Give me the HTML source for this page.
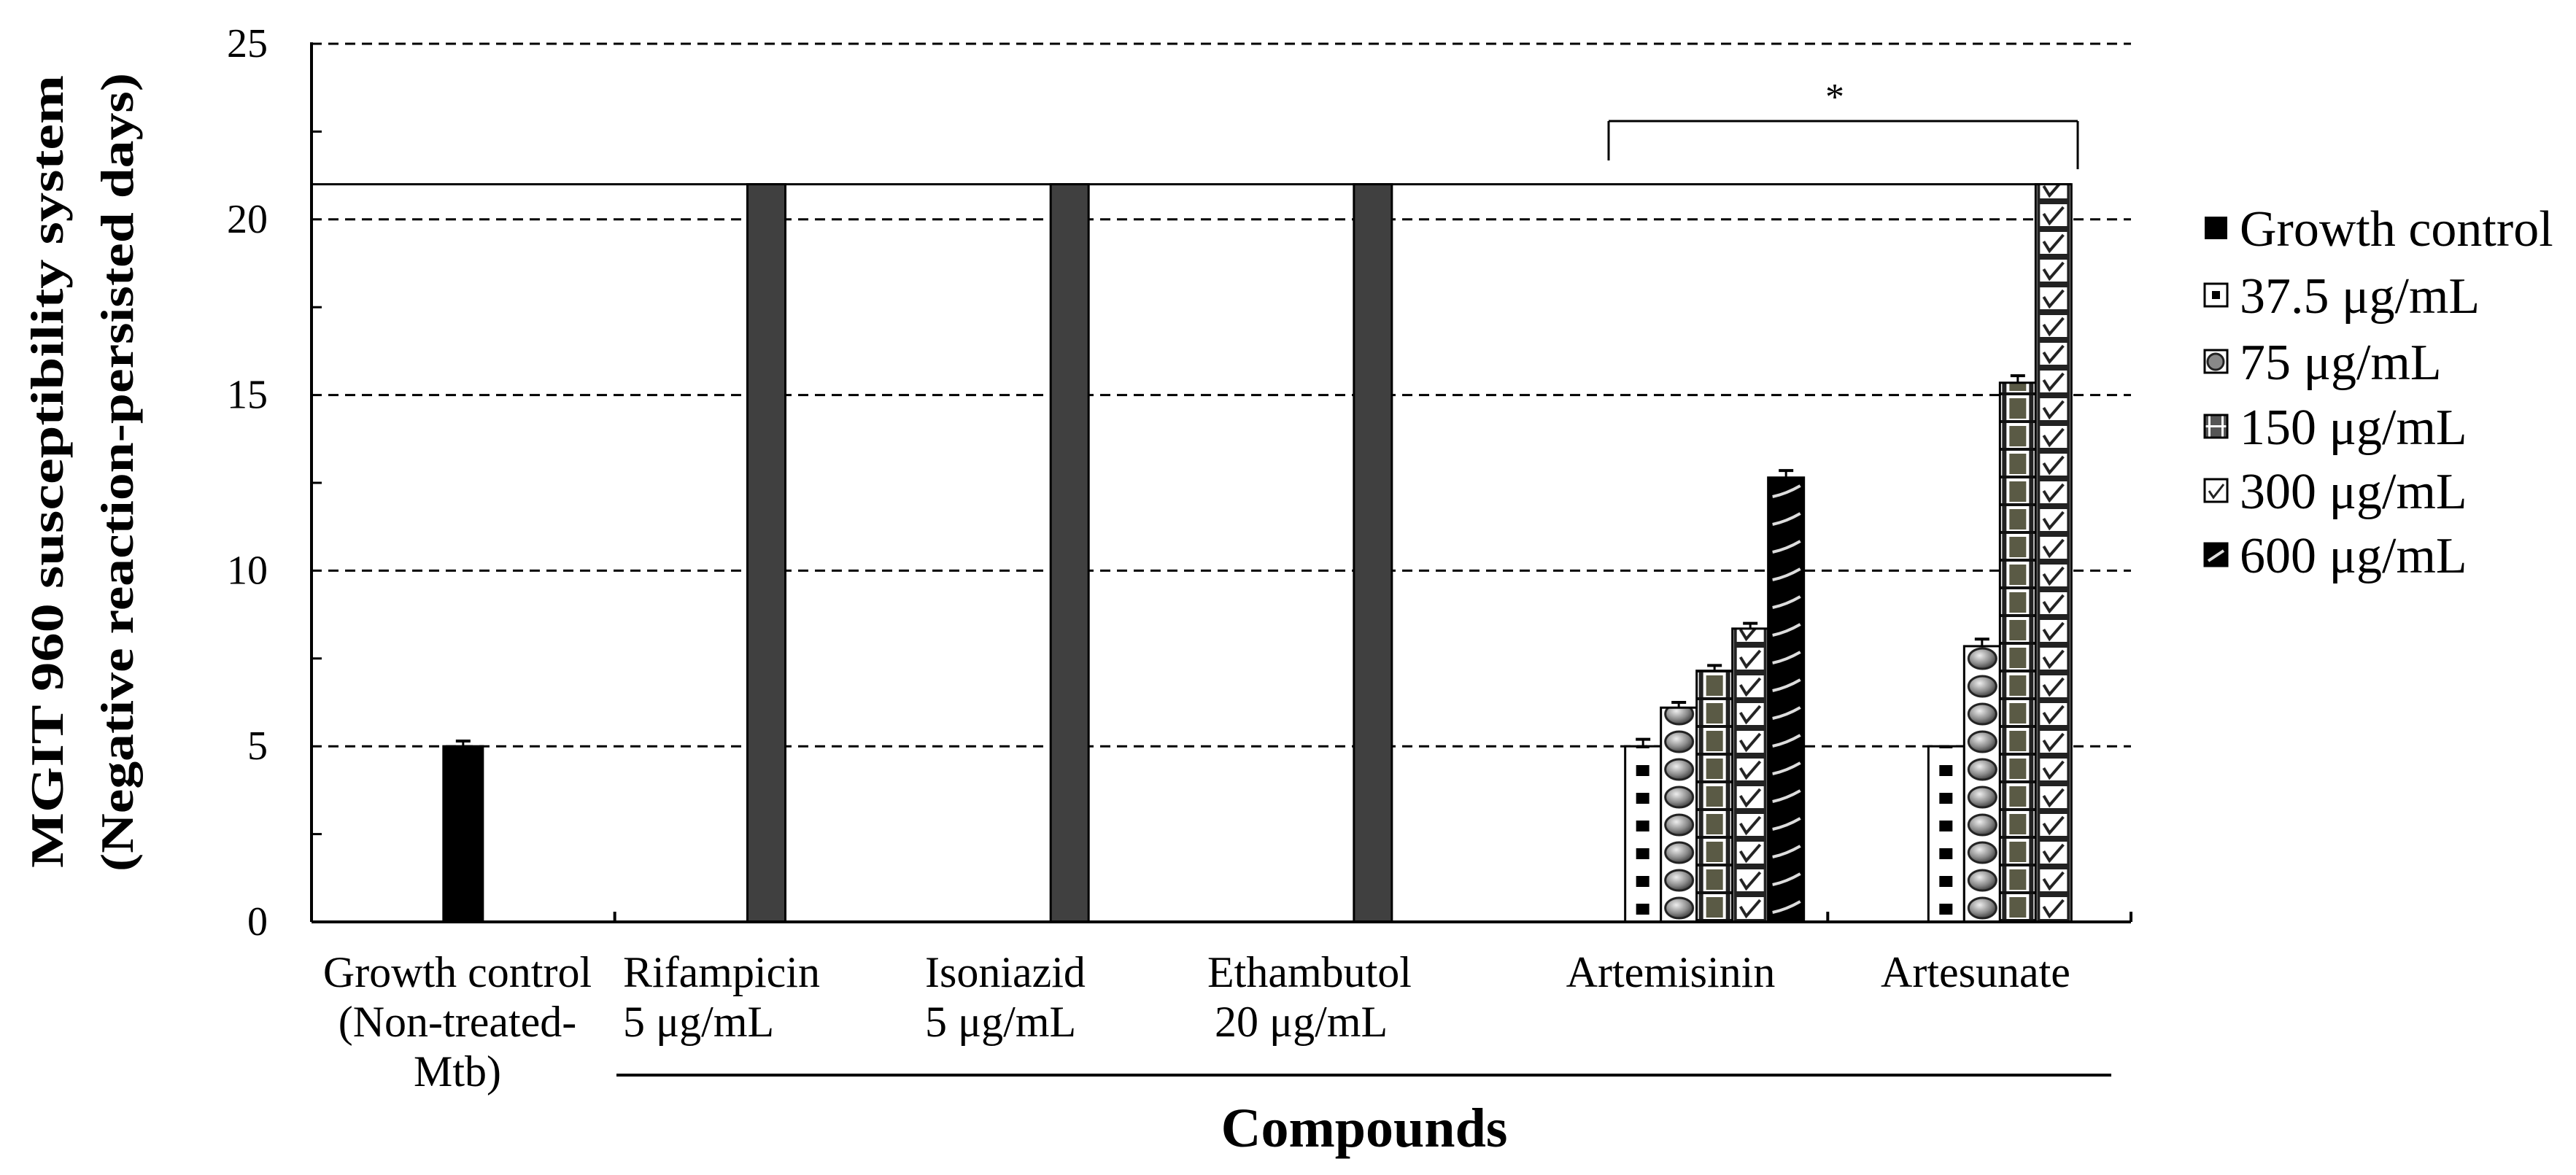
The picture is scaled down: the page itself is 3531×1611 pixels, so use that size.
<!DOCTYPE html>
<html><head><meta charset="utf-8"><style>
html,body{margin:0;padding:0;background:#fff}
svg{display:block}
text{font-family:"Liberation Serif",serif}
</style></head><body>
<svg id="chart" width="3531" height="1611" viewBox="0 0 3531 1611" xmlns="http://www.w3.org/2000/svg" style="position:absolute;left:0;top:0">
<defs id="defs">
<radialGradient id="sph" cx="0.4" cy="0.35" r="0.7"><stop offset="0" stop-color="#eee"/><stop offset="0.6" stop-color="#888"/><stop offset="1" stop-color="#333"/></radialGradient>
</defs>
<g id="grid"></g>
<g id="marks"></g>
<g id="axes"></g>
</svg>
<script>
const categories = ["Growth control", "Rifampicin", "Isoniazid", "Ethambutol", "Artemisinin", "Artesunate"];
const seriesNames = ["Growth control", "37.5 μg/mL", "75 μg/mL", "150 μg/mL", "300 μg/mL", "600 μg/mL"];
const controlValues = [5.0, 21, 21, 21];
const controlErrors = [0.15, 0, 0, 0];
const artemisininValues = [5.0, 6.1, 7.15, 8.35, 12.65];
const artemisininErrors = [0.2, 0.15, 0.15, 0.15, 0.2];
const artesunateValues = [5.0, 7.85, 15.35, 21];
const artesunateErrors = [0, 0.2, 0.2, 0];
const yTicks = [0, 5, 10, 15, 20, 25];
const cutoff = 21;

const NS = "http://www.w3.org/2000/svg";
const X0 = 427, X1 = 2921, Y0 = 1264, Y25 = 60;
const catW = (X1 - X0) / 6;
function y(v){ return Y0 - (v / 25) * (Y0 - Y25); }
function catStart(i){ return X0 + i * catW; }
function mk(tag, attrs, parent){ const e=document.createElementNS(NS,tag); for(const k in attrs) e.setAttribute(k,attrs[k]); parent.appendChild(e); return e; }
const grid=document.getElementById('grid'), marks=document.getElementById('marks'), axes=document.getElementById('axes'), defs=document.getElementById('defs');

const tiles = [
 '<rect width="W" height="38" fill="#fff"/><rect x="15" y="13" width="18" height="15" fill="#000"/>',
 '<rect width="W" height="38" fill="#fff"/><ellipse cx="25" cy="19" rx="19" ry="14" fill="url(#sph)" stroke="#222" stroke-width="3"/>',
 '<rect width="W" height="38" fill="#fff"/><rect x="13" y="4" width="23" height="28" fill="#5a5a45"/><rect x="3" y="0" width="6" height="38" fill="#222"/><rect x="40" y="0" width="6" height="38" fill="#222"/><rect x="0" y="34" width="W" height="4" fill="#111"/>',
 '<rect width="W" height="38" fill="#fff"/><rect x="4" y="2" width="41" height="34" fill="none" stroke="#222" stroke-width="4"/><path d="M11 17 L19 30 L38 8" fill="none" stroke="#222" stroke-width="4"/>',
 '<rect width="W" height="38" fill="#000"/><path d="M6 25 Q25 21 44 10" fill="none" stroke="#ddd" stroke-width="4"/>'
];
let pid=0;
function patFor(k,x,w){
  const id='pt'+(pid++);
  const p=mk('pattern',{id:id,patternUnits:'userSpaceOnUse',x:x,y:Y0,width:w,height:38},defs);
  p.innerHTML=tiles[k].replace(/"W"/g,'"'+w+'"');
  return 'url(#'+id+')';
}

yTicks.forEach(t=>{
  if(t>0){ const l=mk('line',{x1:X0,x2:X1,y1:y(t),y2:y(t),stroke:'#000','stroke-width':3,'stroke-dasharray':'14 9'},grid);
    
     }
  const tx=mk('text',{x:X0-60,y:y(t)+18,'font-size':56,'text-anchor':'end'},axes); tx.textContent=t;
  
  
});
for(let v=2.5; v<25; v+=5){ mk('line',{x1:X0,x2:X0+14,y1:y(v),y2:y(v),stroke:'#000','stroke-width':3},axes); }
const cl=mk('line',{x1:X0,x2:2839,y1:y(cutoff),y2:y(cutoff),stroke:'#000','stroke-width':3},grid);



function bar(x,w,v,fill,err,name){
  const r=mk('rect',{x:x,y:y(v),width:w,height:Y0-y(v),fill:fill,stroke:'#000','stroke-width':3},marks);
  
  
  if(err>0){ const cx=x+w/2; mk('line',{x1:cx,x2:cx,y1:y(v),y2:y(v+err),stroke:'#000','stroke-width':3},marks);
    mk('line',{x1:cx-10,x2:cx+10,y1:y(v+err),y2:y(v+err),stroke:'#000','stroke-width':4},marks); }
}
controlValues.forEach((v,i)=>{
  const w = i===0?54:52; const cx=catStart(i)+catW/2;
  bar(cx-w/2,w,v,i===0?'#000':'#404040',controlErrors[i],'bar-'+categories[i].toLowerCase().replace(/ /g,'-'));
});
const slotW=49;
artemisininValues.forEach((v,k)=>{ const x=catStart(4)+138+k*slotW; bar(x,slotW,v,patFor(k,x,slotW),artemisininErrors[k],'bar-artemisinin-'+k); });
artesunateValues.forEach((v,k)=>{ const x=catStart(5)+138+k*slotW; bar(x,slotW,v,patFor(k,x,slotW),artesunateErrors[k],'bar-artesunate-'+k); });

mk('line',{x1:X0,x2:X0,y1:Y25-2,y2:Y0,stroke:'#000','stroke-width':4},axes);
mk('line',{x1:X0,x2:X1,y1:Y0,y2:Y0,stroke:'#000','stroke-width':4},axes);
[1,5,6].forEach(i=>{ const xx=i===6?X1:catStart(i); mk('line',{x1:xx,x2:xx,y1:Y0,y2:Y0-14,stroke:'#000','stroke-width':4},axes); });
</script>
<svg style="position:absolute;left:0;top:0" width="3531" height="1611" xmlns="http://www.w3.org/2000/svg">
<g stroke="#000" stroke-width="3" fill="none">
<line x1="2205" y1="166" x2="2848" y2="166"/><line x1="2205" y1="166" x2="2205" y2="220"/><line x1="2848" y1="166" x2="2848" y2="232"/>
</g>
<text x="2515" y="150" font-size="52" text-anchor="middle">*</text>
<g font-weight="bold" font-size="64">
<text transform="translate(86,1190) rotate(-90)" textLength="1087" lengthAdjust="spacingAndGlyphs">MGIT 960 susceptibility system</text>
<text transform="translate(182,1195) rotate(-90)" textLength="1095" lengthAdjust="spacingAndGlyphs">(Negative reaction-persisted days)</text>
<text x="1870" y="1572" font-size="76" text-anchor="middle">Compounds</text>
</g>
<g font-size="60" fill="#000">
<text x="627" y="1353" text-anchor="middle">Growth control</text>
<text x="627" y="1421" text-anchor="middle">(Non-treated-</text>
<text x="627" y="1489" text-anchor="middle">Mtb)</text>
<text x="854" y="1353">Rifampicin</text>
<text x="854" y="1421">5 μg/mL</text>
<text x="1268" y="1353">Isoniazid</text>
<text x="1268" y="1421">5 μg/mL</text>
<text x="1655" y="1353">Ethambutol</text>
<text x="1665" y="1421">20 μg/mL</text>
<text x="2290" y="1353" text-anchor="middle">Artemisinin</text>
<text x="2708" y="1353" text-anchor="middle">Artesunate</text>
</g>
<line x1="845" y1="1474" x2="2894" y2="1474" stroke="#000" stroke-width="4"/>
<defs>
<pattern id="l375" patternUnits="objectBoundingBox" width="1" height="1"><rect width="31" height="31" fill="#fff"/><rect x="10" y="10" width="11" height="11" fill="#000"/></pattern>
<pattern id="l75" patternUnits="objectBoundingBox" width="1" height="1"><rect width="31" height="31" fill="#fff"/><circle cx="15" cy="16" r="11" fill="#888" stroke="#222" stroke-width="3"/></pattern>
<pattern id="l150" patternUnits="objectBoundingBox" width="1" height="1"><rect width="31" height="31" fill="#555"/><rect x="5" y="0" width="3" height="31" fill="#fff"/><rect x="23" y="0" width="3" height="31" fill="#fff"/><rect x="0" y="14" width="31" height="3" fill="#fff"/></pattern>
<pattern id="l300" patternUnits="objectBoundingBox" width="1" height="1"><rect width="31" height="31" fill="#fff"/><path d="M6 16 L12 25 L26 7" fill="none" stroke="#222" stroke-width="3"/></pattern>
<pattern id="l600" patternUnits="objectBoundingBox" width="1" height="1"><rect width="31" height="31" fill="#000"/><path d="M5 24 L26 10" stroke="#ddd" stroke-width="4"/></pattern>
</defs>
<g font-size="70">
<g><rect x="3022" y="297" width="31" height="31" fill="#000"/><text x="3070" y="337">Growth control</text></g>
<g><rect x="3022" y="389" width="31" height="31" fill="url(#l375)" stroke="#000" stroke-width="3"/><text x="3070" y="429">37.5 μg/mL</text></g>
<g><rect x="3022" y="480" width="31" height="31" fill="url(#l75)" stroke="#000" stroke-width="3"/><text x="3070" y="520">75 μg/mL</text></g>
<g><rect x="3022" y="569" width="31" height="31" fill="url(#l150)" stroke="#000" stroke-width="3"/><text x="3070" y="609">150 μg/mL</text></g>
<g><rect x="3022" y="657" width="31" height="31" fill="url(#l300)" stroke="#000" stroke-width="3"/><text x="3070" y="697">300 μg/mL</text></g>
<g><rect x="3022" y="745" width="31" height="31" fill="url(#l600)" stroke="#000" stroke-width="3"/><text x="3070" y="785">600 μg/mL</text></g>
</g>
</svg>
</body></html>
